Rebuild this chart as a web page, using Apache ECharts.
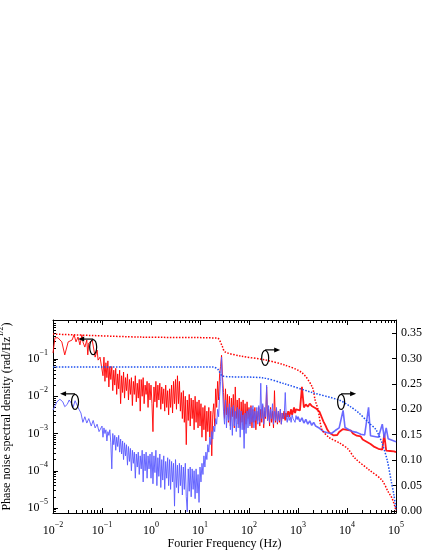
<!DOCTYPE html>
<html>
<head>
<meta charset="utf-8">
<script src="https://cdn.jsdelivr.net/npm/echarts@6/dist/echarts.min.js"></script>
<style>
html, body { margin: 0; padding: 0; background: #fff; }
#chart { width: 425px; height: 550px; }
</style>
</head>
<body>
<div id="chart"></div>
<script>
// all frequencies are log10(Hz), spectral densities are log10(rad/Hz^1/2)

// below 0.1 Hz, read point by point
var redLowLogF = [-2.00, -1.96, -1.90, -1.82, -1.76, -1.69, -1.61, -1.57, -1.53, -1.49, -1.45, -1.41, -1.39, -1.35, -1.31, -1.29, -1.27, -1.20, -1.14, -1.10, -1.08, -1.04];
var redLowLogA = [-0.84, -0.43, -0.43, -0.54, -0.89, -0.54, -0.49, -0.35, -0.54, -0.41, -0.62, -0.35, -0.54, -0.68, -0.49, -0.89, -0.57, -0.49, -0.95, -0.76, -1.03, -0.95];
var blueLowLogF = [-2.00, -1.92, -1.86, -1.80, -1.76, -1.71, -1.67, -1.63, -1.59, -1.55, -1.51, -1.47, -1.43, -1.39, -1.35, -1.31, -1.27, -1.22, -1.18, -1.14, -1.10, -1.06];
var blueLowLogA = [-2.37, -2.15, -2.08, -2.15, -2.28, -2.22, -2.10, -2.18, -2.30, -2.12, -2.07, -2.35, -2.45, -2.70, -2.55, -2.72, -2.60, -2.80, -2.65, -2.85, -2.75, -2.95];

// 0.1 Hz .. 1 kHz every 0.02 decade, then every 0.04 decade up to 100 kHz
var bandLogF = [
  -1.00, -0.98, -0.96, -0.94, -0.92, -0.90, -0.88, -0.86, -0.84, -0.82,
  -0.80, -0.78, -0.76, -0.74, -0.72, -0.70, -0.68, -0.66, -0.64, -0.62,
  -0.60, -0.58, -0.56, -0.54, -0.52, -0.50, -0.48, -0.46, -0.44, -0.42,
  -0.40, -0.38, -0.36, -0.34, -0.32, -0.30, -0.28, -0.26, -0.24, -0.22,
  -0.20, -0.18, -0.16, -0.14, -0.12, -0.10, -0.08, -0.06, -0.04, -0.02,
  0.00, 0.02, 0.04, 0.06, 0.08, 0.10, 0.12, 0.14, 0.16, 0.18,
  0.20, 0.22, 0.24, 0.26, 0.28, 0.30, 0.32, 0.34, 0.36, 0.38,
  0.40, 0.42, 0.44, 0.46, 0.48, 0.50, 0.52, 0.54, 0.56, 0.58,
  0.60, 0.62, 0.64, 0.66, 0.68, 0.70, 0.72, 0.74, 0.76, 0.78,
  0.80, 0.82, 0.84, 0.86, 0.88, 0.90, 0.92, 0.94, 0.96, 0.98,
  1.00, 1.02, 1.04, 1.06, 1.08, 1.10, 1.12, 1.14, 1.16, 1.18,
  1.20, 1.22, 1.24, 1.26, 1.28, 1.30, 1.32, 1.34, 1.36, 1.38,
  1.40, 1.42, 1.44, 1.46, 1.48, 1.50, 1.52, 1.54, 1.56, 1.58,
  1.60, 1.62, 1.64, 1.66, 1.68, 1.70, 1.72, 1.74, 1.76, 1.78,
  1.80, 1.82, 1.84, 1.86, 1.88, 1.90, 1.92, 1.94, 1.96, 1.98,
  2.00, 2.02, 2.04, 2.06, 2.08, 2.10, 2.12, 2.14, 2.16, 2.18,
  2.20, 2.22, 2.24, 2.26, 2.28, 2.30, 2.32, 2.34, 2.36, 2.38,
  2.40, 2.42, 2.44, 2.46, 2.48, 2.50, 2.52, 2.54, 2.56, 2.58,
  2.60, 2.62, 2.64, 2.66, 2.68, 2.70, 2.72, 2.74, 2.76, 2.78,
  2.80, 2.82, 2.84, 2.86, 2.88, 2.90, 2.92, 2.94, 2.96, 2.98,
  3.00, 3.04, 3.08, 3.12, 3.16, 3.20, 3.24, 3.28, 3.32, 3.36, 3.40, 3.44, 3.48, 3.52, 3.56, 3.60, 3.64, 3.68, 3.72, 3.76, 3.80, 3.84, 3.88, 3.92, 3.96,
  4.00, 4.04, 4.08, 4.12, 4.16, 4.20, 4.24, 4.28, 4.32, 4.36, 4.40, 4.44, 4.48, 4.52, 4.56, 4.60, 4.64, 4.68, 4.72, 4.76, 4.80, 4.84, 4.88, 4.92, 4.96, 5.00
];
var redBandLogA = [
  -1.00, -1.45, -0.95, -1.60, -1.10, -1.50, -1.05, -1.75, -1.20, -1.55,
  -1.20, -1.85, -1.30, -1.70, -1.25, -1.95, -1.40, -1.80, -1.30, -2.20,
  -1.45, -1.90, -1.35, -2.05, -1.50, -1.85, -1.40, -2.10, -1.55, -1.95,
  -1.50, -2.25, -1.60, -1.95, -1.45, -2.15, -1.65, -2.05, -1.55, -2.40,
  -1.55, -2.00, -1.50, -2.20, -1.70, -1.95, -1.60, -2.30, -1.65, -2.10,
  -1.70, -2.20, -2.95, -1.75, -2.15, -1.60, -2.30, -1.70, -2.10, -1.65,
  -2.35, -1.75, -2.20, -1.80, -2.40, -1.70, -2.30, -1.85, -2.50, -1.80,
  -2.30, -1.70, -2.45, -1.60, -2.20, -1.55, -2.35, -1.45, -2.20, -1.60,
  -2.40, -1.90, -2.60, -1.85, -2.70, -2.00, -3.30, -2.10, -2.65, -1.95,
  -2.80, -2.05, -2.60, -2.10, -2.90, -2.00, -2.70, -2.15, -2.85, -2.10,
  -2.80, -2.20, -3.10, -2.30, -2.90, -2.25, -3.20, -2.40, -2.95, -2.30,
  -3.10, -2.40, -3.60, -2.50, -2.20, -2.80, -1.80, -2.30, -1.60, -2.10,
  -1.40, -1.20, -0.90, -1.50, -1.90, -2.60, -1.80, -2.50, -1.95, -2.70,
  -2.00, -2.80, -2.05, -2.55, -1.95, -2.85, -1.75, -2.60, -2.10, -2.75,
  -2.05, -2.85, -2.15, -2.70, -2.10, -2.90, -2.20, -2.75, -2.15, -2.60,
  -2.30, -2.75, -2.25, -2.85, -2.35, -2.70, -2.30, -2.90, -2.40, -2.65,
  -2.30, -2.80, -2.35, -2.70, -2.25, -2.85, -2.40, -2.60, -1.75, -2.65,
  -2.35, -2.80, -2.30, -2.70, -2.40, -2.85, -1.85, -2.70, -2.35, -2.75,
  -2.40, -2.70, -2.35, -2.75, -2.45, -2.60, -2.40, -2.65, -2.45, -2.55,
  -2.40, -2.55, -2.45, -2.35, -2.50, -2.40, -2.30, -2.45, -2.35, -2.30,
  -2.30, -2.38, -1.75, -2.30, -2.22, -2.28, -2.20, -2.26, -2.30, -2.32, -2.35, -2.42, -2.55, -2.68, -2.78, -2.90, -2.98, -3.02, -3.05, -3.00, -3.04, -2.96, -2.92, -2.88, -2.85,
  -2.90, -2.95, -2.92, -3.00, -3.02, -3.06, -3.10, -3.08, -3.16, -3.18, -3.22, -3.26, -3.28, -3.33, -3.36, -3.38, -3.41, -3.42, -3.43, -3.02, -3.46, -3.48, -3.47, -3.50, -3.48, -3.50
];
var blueBandLogA = [
  -2.80, -3.10, -2.85, -3.00, -2.90, -3.20, -2.95, -3.05, -2.90, -3.25,
  -3.95, -3.00, -3.30, -3.05, -3.45, -3.10, -3.35, -3.05, -3.50, -3.15,
  -3.55, -3.20, -3.70, -3.25, -3.60, -3.30, -3.85, -3.35, -3.75, -3.40,
  -4.00, -3.45, -3.80, -3.50, -4.20, -3.55, -3.90, -3.50, -4.10, -3.60,
  -3.95, -3.45, -4.30, -3.55, -4.00, -3.50, -4.20, -3.60, -3.95, -3.55,
  -4.20, -3.50, -4.35, -3.60, -4.05, -3.45, -4.40, -3.65, -4.15, -3.55,
  -4.45, -3.70, -4.25, -3.60, -4.50, -3.75, -4.20, -3.65, -4.40, -3.70,
  -4.50, -3.75, -4.30, -3.80, -4.95, -3.70, -4.45, -3.85, -4.60, -3.80,
  -4.40, -3.85, -4.65, -3.90, -4.50, -3.80, -4.70, -5.10, -3.95, -4.55,
  -3.90, -4.70, -3.95, -4.50, -4.00, -4.75, -3.95, -4.60, -4.10, -4.85,
  -3.90, -4.30, -3.80, -4.10, -3.60, -3.90, -3.50, -3.70, -3.30, -3.50,
  -3.10, -3.30, -2.95, -3.15, -2.80, -2.95, -2.60, -2.75, -2.35, -2.55,
  -2.00, -1.60, -0.95, -1.80, -2.40, -2.75, -2.10, -2.85, -2.30, -2.65,
  -2.20, -2.90, -2.30, -3.05, -2.25, -2.80, -2.40, -2.95, -2.30, -2.85,
  -2.35, -3.10, -2.40, -2.90, -2.50, -3.40, -2.45, -3.00, -2.40, -2.85,
  -2.35, -2.80, -2.30, -2.70, -2.25, -2.85, -2.40, -2.65, -2.30, -2.75,
  -2.25, -2.70, -1.65, -2.60, -2.20, -2.75, -2.30, -2.55, -1.70, -2.65,
  -2.25, -2.70, -2.35, -2.60, -2.20, -2.75, -2.40, -2.65, -2.30, -2.70,
  -2.40, -2.65, -2.35, -2.75, -2.45, -2.60, -2.50, -1.90, -2.55, -2.70,
  -2.50, -2.65, -2.55, -2.70, -2.50, -2.60, -2.55, -2.70, -2.52, -2.62,
  -2.55, -2.68, -2.58, -2.72, -2.62, -2.75, -2.66, -2.78, -2.70, -2.80, -2.76, -2.86, -2.90, -2.95, -2.92, -2.98, -2.95, -3.00, -2.96, -2.92, -2.88, -2.85, -2.82, -2.38, -2.84,
  -2.86, -2.90, -2.92, -2.95, -2.98, -2.97, -3.00, -3.02, -3.00, -3.04, -3.03, -2.30, -3.06, -3.05, -3.08, -3.07, -3.10, -3.09, -2.75, -3.12, -2.85, -3.14, -3.16, -3.18, -3.20, -3.22
];

// integrated phase noise (rad), right axis
var redIntLogF = [-2.00, -0.22, 1.35, 1.45, 1.51, 1.82, 2.33, 2.73, 3.08, 3.29, 3.35, 3.41, 3.49, 3.63, 3.86, 4.02, 4.16, 4.45, 4.71, 4.84, 4.92, 4.98, 5.00];
var redInt = [0.348, 0.342, 0.340, 0.325, 0.313, 0.305, 0.297, 0.287, 0.272, 0.244, 0.218, 0.199, 0.160, 0.145, 0.133, 0.122, 0.104, 0.081, 0.061, 0.038, 0.025, 0.008, 0.000];
var blueIntLogF = [-2.00, 1.27, 1.37, 1.45, 1.61, 2.27, 2.73, 3.29, 3.84, 4.06, 4.24, 4.45, 4.59, 4.71, 4.82, 4.90, 4.96, 5.00];
var blueInt = [0.283, 0.283, 0.278, 0.266, 0.264, 0.262, 0.250, 0.233, 0.218, 0.206, 0.193, 0.173, 0.160, 0.135, 0.100, 0.060, 0.030, 0.003];

// tick labels
var xTickExp = [-2, -1, 0, 1, 2, 3, 4, 5];
var yTickExp = [-5, -4, -3, -2, -1];
var rightTicks = [0, 0.05, 0.10, 0.15, 0.20, 0.25, 0.30, 0.35];

// ellipse + arrow markers: [logF, logA, arrow direction]
var markers = [[-1.18, -0.68, -1], [-1.55, -2.15, -1], [2.33, -0.97, 1], [3.88, -2.15, 1]];

var X_MIN = -2, X_MAX = 5;
var Y_MIN = -5.134, Y_MAX = 0.047;
var R_MIN = -0.0039, R_MAX = 0.3756;
var FONT = 'Liberation Serif';

function zip(xs, ys) {
    return xs.map(function (x, i) { return [x, ys[i]]; });
}
function minorTicks(lo, hi) {
    var out = [];
    for (var d = Math.floor(lo); d <= Math.ceil(hi); d++) {
        for (var k = 2; k <= 9; k++) {
            var v = d + Math.log10(k);
            if (v > lo && v < hi) out.push(v);
        }
    }
    return out;
}
function pow10(v) {
    var s = String(Math.round(v)).replace('-', '\u2212');
    return '{b|10}{sup|' + s + '}';
}

var rich = {
    b: { fontFamily: FONT, fontSize: 12, color: '#000', lineHeight: 20 },
    sup: { fontFamily: FONT, fontSize: 8, color: '#000', lineHeight: 10, verticalAlign: 'top' }
};
var black = { color: '#000', width: 1 };
var gridBox = { left: 53, right: 29, top: 320, bottom: 37, outerBoundsMode: 'none', containLabel: false };

var redPsd = zip(redLowLogF, redLowLogA).concat(zip(bandLogF, redBandLogA));
var bluePsd = zip(blueLowLogF, blueLowLogA).concat(zip(bandLogF, blueBandLogA));
// the traces look heavier above ~1 kHz, so that part gets its own thicker stroke
function below(pts, f) { return pts.filter(function (p) { return p[0] <= f; }); }
function above(pts, f) { return pts.filter(function (p) { return p[0] >= f; }); }

var chart = echarts.init(document.getElementById('chart'));

function psdSeries(data, color, width, z) {
    return {
        type: 'line', xAxisIndex: 0, yAxisIndex: 0, data: data,
        showSymbol: false, symbol: 'none', z: z,
        lineStyle: { color: color, width: width, opacity: 0.9 }
    };
}

var option = {
    animation: false,
    grid: [gridBox, gridBox],
    xAxis: [
        {
            gridIndex: 0, type: 'value', position: 'bottom', min: X_MIN, max: X_MAX,
            axisLine: { onZero: false, lineStyle: black },
            axisTick: { inside: true, length: 5, customValues: xTickExp, lineStyle: black },
            axisLabel: { customValues: xTickExp, margin: 8, formatter: pow10, rich: rich },
            splitLine: { show: false },
            name: 'Fourier Frequency (Hz)', nameLocation: 'middle', nameGap: 21,
            nameTextStyle: { fontFamily: FONT, fontSize: 12, color: '#000' }
        },
        {
            gridIndex: 0, type: 'value', position: 'top', min: X_MIN, max: X_MAX,
            axisLine: { onZero: false, lineStyle: black },
            axisTick: { inside: true, length: 5, customValues: xTickExp, lineStyle: black },
            axisLabel: { show: false },
            splitLine: { show: false }
        },
        {
            gridIndex: 1, type: 'value', position: 'bottom', min: X_MIN, max: X_MAX,
            axisLine: { show: false, onZero: false },
            axisTick: { inside: true, length: 3, customValues: minorTicks(X_MIN, X_MAX), lineStyle: black },
            axisLabel: { show: false },
            splitLine: { show: false }
        },
        {
            gridIndex: 1, type: 'value', position: 'top', min: X_MIN, max: X_MAX,
            axisLine: { show: false, onZero: false },
            axisTick: { inside: true, length: 3, customValues: minorTicks(X_MIN, X_MAX), lineStyle: black },
            axisLabel: { show: false },
            splitLine: { show: false }
        }
    ],
    yAxis: [
        {
            gridIndex: 0, type: 'value', position: 'left', min: Y_MIN, max: Y_MAX,
            axisLine: { show: true, onZero: false, lineStyle: black },
            axisTick: { show: true, inside: true, length: 5, customValues: yTickExp, lineStyle: black },
            axisLabel: { customValues: yTickExp, margin: 5, formatter: pow10, rich: rich },
            splitLine: { show: false },
            name: 'Phase noise spectral density (rad/Hz{sup|1/2})',
            nameLocation: 'middle', nameGap: 32, nameRotate: 90,
            nameTextStyle: {
                fontFamily: FONT, fontSize: 12, color: '#000', lineHeight: 20,
                rich: { sup: { fontFamily: FONT, fontSize: 8, color: '#000', lineHeight: 10, verticalAlign: 'top' } }
            }
        },
        {
            gridIndex: 0, type: 'value', position: 'right', min: R_MIN, max: R_MAX,
            axisLine: { show: true, onZero: false, lineStyle: black },
            axisTick: { show: true, inside: true, length: 4, customValues: rightTicks, lineStyle: black },
            axisLabel: {
                customValues: rightTicks, margin: 5,
                fontFamily: FONT, fontSize: 12, color: '#000',
                formatter: function (v) { return v.toFixed(2); }
            },
            splitLine: { show: false }
        },
        {
            gridIndex: 1, type: 'value', position: 'left', min: Y_MIN, max: Y_MAX,
            axisLine: { show: false, onZero: false },
            axisTick: { show: true, inside: true, length: 3, customValues: minorTicks(Y_MIN, Y_MAX), lineStyle: black },
            axisLabel: { show: false },
            splitLine: { show: false }
        }
    ],
    series: [
        psdSeries(below(redPsd, 2.7), '#ff0000', 1, 2),
        psdSeries(above(redPsd, 2.68), '#ff0000', 1.8, 2),
        psdSeries(below(bluePsd, 3.0), '#5a5aff', 1, 3),
        psdSeries(above(bluePsd, 2.98), '#5a5aff', 1.6, 3),
        {
            type: 'line', xAxisIndex: 0, yAxisIndex: 1, data: zip(redIntLogF, redInt),
            showSymbol: false, symbol: 'none', smooth: 0.3, z: 4,
            lineStyle: { color: '#ff0000', width: 1.5, type: [1.5, 1.5] }
        },
        {
            type: 'line', xAxisIndex: 0, yAxisIndex: 1, data: zip(blueIntLogF, blueInt),
            showSymbol: false, symbol: 'none', smooth: 0.3, z: 4,
            lineStyle: { color: '#1d4ff0', width: 1.5, type: [1.5, 1.5] }
        }
    ]
};
chart.setOption(option);

// ellipse + arrow annotations, placed through the axes
var graphics = [];
markers.forEach(function (m) {
    var p = chart.convertToPixel({ xAxisIndex: 0, yAxisIndex: 0 }, [m[0], m[1]]);
    var dir = m[2], ay = p[1] - 8;
    graphics.push({
        type: 'ellipse', shape: { cx: p[0], cy: p[1], rx: 3.5, ry: 7.5 },
        style: { fill: 'none', stroke: '#000', lineWidth: 1.2 }, z: 10
    });
    graphics.push({
        type: 'line', shape: { x1: p[0], y1: ay, x2: p[0] + dir * 10, y2: ay },
        style: { stroke: '#000', lineWidth: 1.2 }, z: 10
    });
    graphics.push({
        type: 'polygon',
        shape: { points: [[p[0] + dir * 15, ay], [p[0] + dir * 9, ay - 2.5], [p[0] + dir * 9, ay + 2.5]] },
        style: { fill: '#000' }, z: 10
    });
});
chart.setOption({ graphic: graphics });
</script>
</body>
</html>
